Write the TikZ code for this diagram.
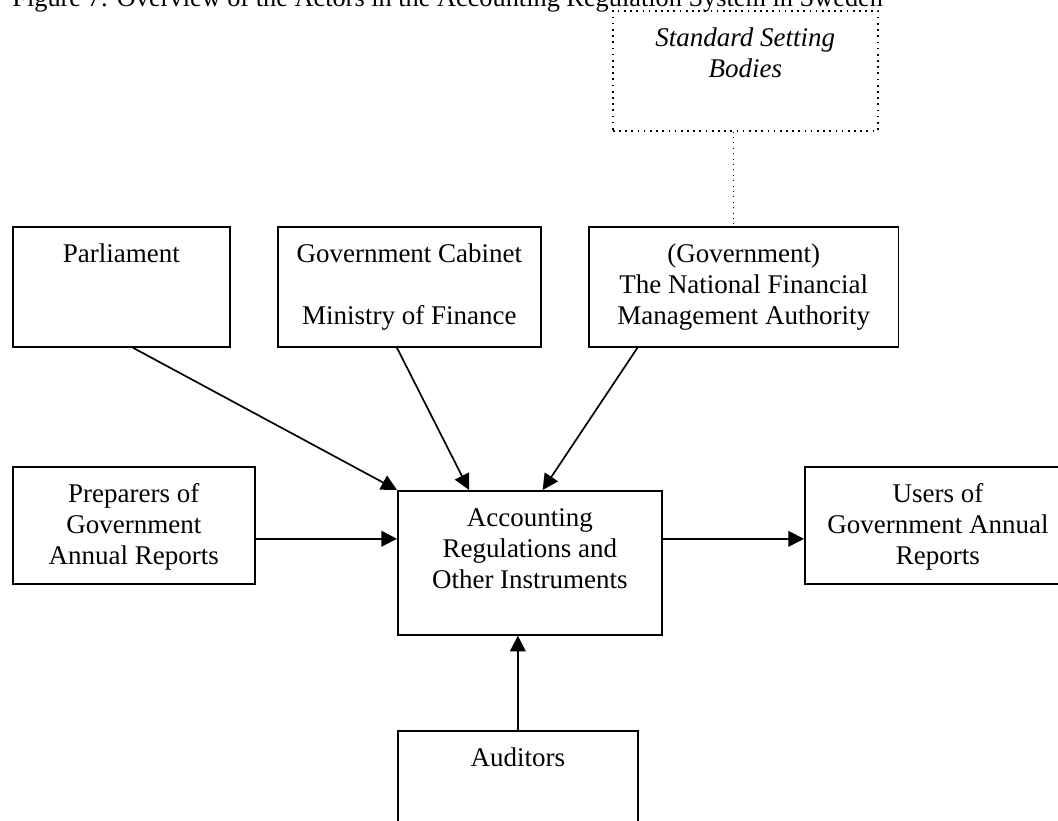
\documentclass[tikz,border=0pt]{standalone}
\usepackage{fontspec}
\setmainfont{Liberation Serif}
\usetikzlibrary{arrows.meta}

\begin{document}
\begin{tikzpicture}[x=0.015625cm, y=-0.015625cm,
    every node/.style={font=\fontsize{12}{13.8}\selectfont},
    box/.style={draw, line width=0.75pt, inner sep=0pt, align=flush center, anchor=north west, text height=0.55cm},
    arr/.style={-{Triangle[length=7pt,width=7pt]}, line width=0.75pt}]
    \useasboundingbox (0,0) rectangle (1058,821);
    \clip (0,0) rectangle (1058,821);

    % Title (cut at the top)
    \node[anchor=base west, inner sep=0pt, font=\fontsize{11.7}{13.8}\selectfont] (title) at (12,7) {Figure 7: Overview of the Actors in the Accounting Regulation System in Sweden};

    % Top row
    \node[box, dotted, text width=4.14cm, text depth=1.325cm, font=\fontsize{12}{13.8}\selectfont\itshape] (ssb) at (612,10) {Standard Setting\\Bodies};
    \node[box, text width=3.39cm, text depth=1.325cm] (parl) at (12,226) {Parliament};
    \node[box, text width=4.11cm, text depth=1.325cm] (gov) at (277,226) {Government Cabinet\\[13.8pt]Ministry of Finance};
    \node[box, text width=4.84cm, text depth=1.325cm] (nfma) at (588,226) {(Government)\\The National Financial\\Management Authority};

    % Middle row
    \node[box, text width=3.78cm, text depth=1.278cm] (prep) at (12,466) {Preparers of\\Government\\Annual Reports};
    \node[box, text width=4.125cm, text depth=1.70cm] (acc) at (397,490) {Accounting\\Regulations and\\Other Instruments};
    \node[box, text width=4.16cm, text depth=1.278cm] (users) at (804,466) {Users of\\Government Annual\\Reports};

    % Bottom
    \node[box, text width=3.75cm, text depth=1.325cm] (aud) at (397,730) {Auditors};

    % Connectors
    \draw[dotted] ([xshift=-0.18cm]ssb.south) -- ([xshift=-0.18cm]ssb.south |- nfma.north);
    \draw[arr] ([xshift=0.18cm]parl.south) -- (acc.north west);
    \draw[arr] ([xshift=-0.195cm]gov.south) -- ([xshift=-0.95cm]acc.north);
    \draw[arr] ([xshift=-1.66cm]nfma.south) -- ([xshift=0.2cm]acc.north);
    \draw[arr] ([yshift=-0.21cm]prep.east) -- ([yshift=-0.21cm]prep.east -| acc.west);
    \draw[arr] ([yshift=0.375cm]acc.east) -- ([yshift=0.375cm]acc.east -| users.west);
    \draw[arr] (aud.north) -- (aud.north |- acc.south);
\end{tikzpicture}
\end{document}
